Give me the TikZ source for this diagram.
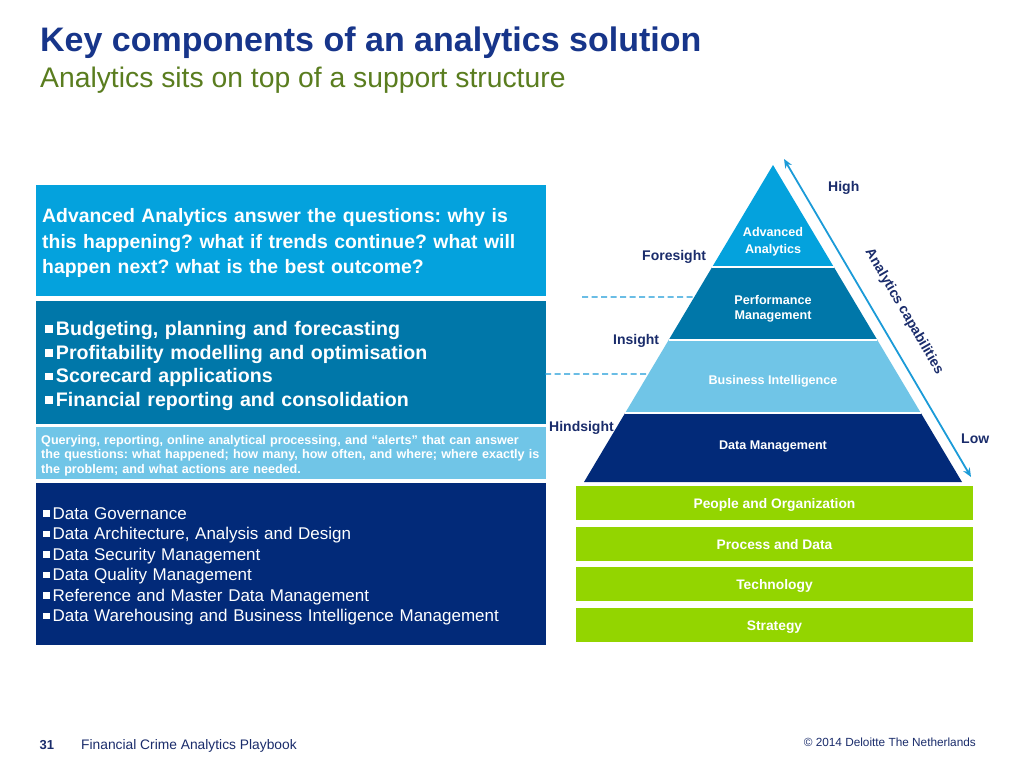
\documentclass[tikz,border=0pt]{standalone}
\usepackage{fontspec}
\setmainfont{Liberation Sans}
\usetikzlibrary{arrows.meta,calc}
\definecolor{navy}{HTML}{012774}
\definecolor{titleblue}{HTML}{17358A}
\definecolor{subgreen}{HTML}{5A7D1F}
\definecolor{cA}{HTML}{04A2DD}
\definecolor{cP}{HTML}{0077A9}
\definecolor{cB}{HTML}{70C5E7}
\definecolor{cD}{HTML}{022A79}
\definecolor{cG}{HTML}{93D500}
\definecolor{arrowblue}{HTML}{1B9BD8}
\definecolor{labelnavy}{HTML}{1A2C6B}
\newcommand\sqb{\rule[0.12em]{0.4em}{0.4em}\hspace{0.15em}}
\tikzset{
  panel/.style={anchor=north west, inner sep=0pt, outer sep=0pt},
  paneltext/.style={anchor=base west, inner sep=0pt, text=white, align=left, text width=530pt},
  greenbox/.style={fill=cG, inner sep=0pt, minimum width=397pt, minimum height=34pt,
     text=white, font=\bfseries\fontsize{13.8}{16}\selectfont, text height=13.5pt, text depth=2.5pt},
  pyrtext/.style={text=white, font=\bfseries\fontsize{12.6}{15}\selectfont, align=center, inner sep=0pt},
  sidelabel/.style={text=labelnavy, font=\bfseries\fontsize{14}{16}\selectfont, inner sep=0pt},
  dashline/.style={draw=arrowblue, line width=1.1pt, dash pattern=on 6pt off 3.5pt},
}
\begin{document}
\frenchspacing
\begin{tikzpicture}[x=1pt,y=-1pt]
\useasboundingbox (0,0) rectangle (1024,768);
\fill[white] (0,0) rectangle (1024,768);

% titles
\node[anchor=base west, inner sep=0pt, text=titleblue, font=\bfseries\fontsize{34}{40}\selectfont] (title) at (40,52) {Key components of an analytics solution};
\node[anchor=base west, inner sep=0pt, text=subgreen, font=\fontsize{28.3}{32}\selectfont] (subtitle) at (40,87) {Analytics sits on top of a support structure};

% left panels
\node[panel, fill=cA, minimum width=510pt, minimum height=111pt] (p1) at (36,185) {};
\node[panel, fill=cP, minimum width=510pt, minimum height=123.5pt] (p2) at (36,300.5) {};
\node[panel, fill=cB, minimum width=510pt, minimum height=52pt] (p3) at (36,427.3) {};
\node[panel, fill=cD, minimum width=510pt, minimum height=162pt] (p4) at (36,482.8) {};

\node[paneltext, font=\bfseries\fontsize{19.4}{25.3}\selectfont] (t1) at (42,222.7)
 {Advanced Analytics answer the questions: why is\\ this happening? what if trends continue? what will\\ happen next? what is the best outcome?};
\node[paneltext, font=\bfseries\fontsize{19.6}{23.7}\selectfont] (t2) at (45,335.3)
 {\sqb Budgeting, planning and forecasting\\ \sqb Profitability modelling and optimisation\\ \sqb Scorecard applications\\ \sqb Financial reporting and consolidation};
\node[paneltext, font=\bfseries\fontsize{12.6}{14.5}\selectfont] (t3) at (41,444.3)
 {Querying, reporting, online analytical processing, and ``alerts'' that can answer\\ the questions: what happened; how many, how often, and where; where exactly is\\ the problem; and what actions are needed.};
\node[paneltext, font=\fontsize{17}{20.5}\selectfont] (t4) at (43,519)
 {\sqb Data Governance\\ \sqb Data Architecture, Analysis and Design\\ \sqb Data Security Management\\ \sqb Data Quality Management\\ \sqb Reference and Master Data Management\\ \sqb Data Warehousing and Business Intelligence Management};

% pyramid
\coordinate (apex) at (773,165);
\coordinate (bl) at (584,482);
\coordinate (br) at (962,482);
\coordinate (l1) at ($(apex)!0.3218!(bl)$);
\coordinate (r1) at ($(apex)!0.3218!(br)$);
\coordinate (l2) at ($(apex)!0.5521!(bl)$);
\coordinate (r2) at ($(apex)!0.5521!(br)$);
\coordinate (l3) at ($(apex)!0.7823!(bl)$);
\coordinate (r3) at ($(apex)!0.7823!(br)$);
\fill[cA] (apex) -- (l1) -- (r1) -- cycle;
\fill[cP] (l1) -- (l2) -- (r2) -- (r1) -- cycle;
\fill[cB] (l2) -- (l3) -- (r3) -- (r2) -- cycle;
\fill[cD] (l3) -- (bl) -- (br) -- (r3) -- cycle;
\draw[white, line width=1.6pt] (l1) -- (r1) (l2) -- (r2) (l3) -- (r3);

\node[pyrtext, anchor=base] (aa) at (773,236) {Advanced};
\node[pyrtext, anchor=base] (aa2) at (773,253.5) {Analytics};
\node[pyrtext, anchor=base] (pm) at (773,304) {Performance};
\node[pyrtext, anchor=base] (pm2) at (773,319) {Management};
\node[pyrtext, anchor=base] (bi) at (773,384.3) {Business Intelligence};
\node[pyrtext, anchor=base] (dm) at (773,449.3) {Data Management};

% dashed guide lines
\coordinate (d1s) at (582,297);
\coordinate (d1e) at ($(apex)!0.4164!(bl)$);
\coordinate (d2s) at (545,374);
\coordinate (d2e) at ($(apex)!0.6593!(bl)$);
\draw[dashline] (d1s) -- (d1e);
\draw[dashline] (d2s) -- (d2e);

% capability arrow
\coordinate (ahigh) at (784,159);
\coordinate (alow) at (971,477);
\draw[arrowblue, line width=1.8pt, {Stealth[length=9pt,width=7.5pt]}-{Stealth[length=9pt,width=7.5pt]}] (ahigh) -- (alow);
\node[sidelabel, rotate=-59.8] (cap) at (904,311.5) {Analytics capabilities};

% side labels
\node[sidelabel, anchor=base west] (high) at (828,191) {High};
\node[sidelabel, anchor=base west] (fore) at (642,260) {Foresight};
\node[sidelabel, anchor=base west] (ins) at (613,344) {Insight};
\node[sidelabel, anchor=base west] (hind) at (549,431.7) {Hindsight};
\node[sidelabel, anchor=base west] (low) at (961,443.3) {Low};

% green foundation
\node[greenbox] (g1) at (774.5,502.7) {People and Organization};
\node[greenbox] (g2) at (774.5,543.5) {Process and Data};
\node[greenbox] (g3) at (774.5,584) {Technology};
\node[greenbox] (g4) at (774.5,625) {Strategy};

% footer
\node[anchor=base west, inner sep=0pt, text=labelnavy, font=\bfseries\fontsize{13}{15}\selectfont] (pg) at (39.5,749) {31};
\node[anchor=base west, inner sep=0pt, text=labelnavy, font=\fontsize{13.8}{15}\selectfont] (book) at (81,749) {Financial Crime Analytics Playbook};
\node[anchor=base east, inner sep=0pt, text=labelnavy, font=\fontsize{11.8}{14}\selectfont] (copy) at (976,746) {\textcopyright{} 2014 Deloitte The Netherlands};
\end{tikzpicture}
\end{document}
